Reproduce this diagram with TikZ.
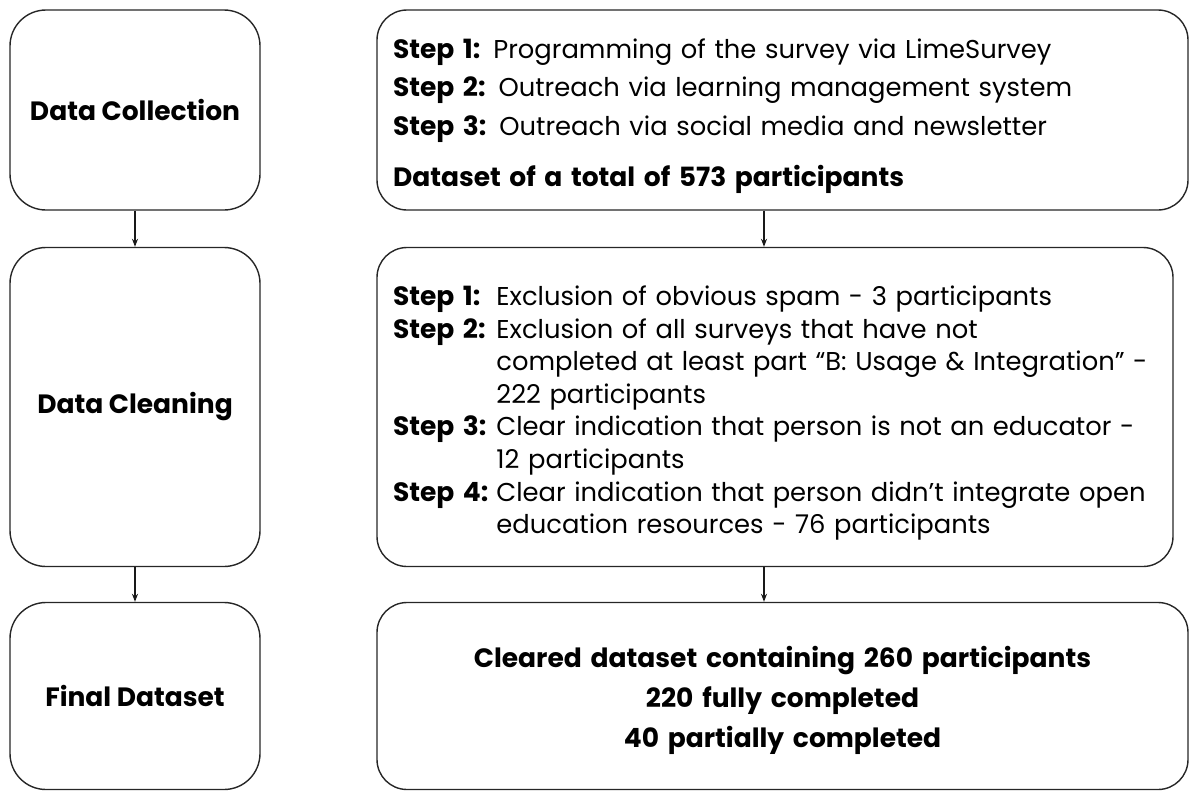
\documentclass[tikz,border=0pt]{standalone}
\usepackage{fontspec}
\setmainfont{Poppins}
\usetikzlibrary{arrows.meta}
\newcommand\steplabel[1]{{\fontsize{26.5}{30}\selectfont\bfseries #1}}
\tikzset{
  % boxes on the left (stages) and on the right (details)
  stage/.style={draw=black!85,line width=1.4pt,rounded corners=36pt,minimum width=250pt,
    align=center,font=\fontsize{26.5}{30}\selectfont\bfseries},
  detail/.style={draw=black!85,line width=1.4pt,rounded corners=30pt,minimum width=811pt},
  note/.style={inner sep=0pt,text width=779pt,font=\fontsize{25.8}{38.5}\selectfont},
  flow/.style={-{Stealth[length=8pt,width=6pt]},line width=1.1pt,black!90},
}
\begin{document}
\begin{tikzpicture}[x=1pt,y=-1pt]
  \useasboundingbox (0,0) rectangle (1200,801);
  \node[stage,minimum height=200pt] (collect) at (135,110) {Data Collection};
  \node[stage,minimum height=319pt] (clean) at (135,407) {Data Cleaning};
  \node[stage,minimum height=187pt] (final) at (135,696) {Final Dataset};

  \node[detail,minimum height=200pt] (survey) at (782.5,110) {};
  \node[detail,minimum width=796pt,minimum height=319pt] (exclude) at (775,407) {};
  \node[detail,minimum height=187pt] (result) at (782.5,696) {};

  \node[note,align=left] (surveytxt) at ([yshift=-6pt]survey.center)
    {\steplabel{Step 1:} Programming of the survey via LimeSurvey\\
     \steplabel{Step 2:} Outreach via learning management system\\
     \steplabel{Step 3:} Outreach via social media and newsletter\\[13pt]
     \steplabel{Dataset of a total of 573 participants}};
  \node[note,text width=764pt,align=left] (excludetxt) at ([yshift=-6pt]exclude.center)
    {\fontsize{25.8}{32.6}\selectfont
     \begin{tabular}{@{}l@{\hspace{8pt}}l@{}}
       \steplabel{Step 1:} & Exclusion of obvious spam - 3 participants\\
       \steplabel{Step 2:} & Exclusion of all surveys that have not\\
                           & completed at least part “B: Usage \& Integration” -\\
                           & 222 participants\\
       \steplabel{Step 3:} & Clear indication that person is not an educator -\\
                           & 12 participants\\
       \steplabel{Step 4:} & Clear indication that person didn’t integrate open\\
                           & education resources - 76 participants
     \end{tabular}};
  \node[note,align=center,font=\fontsize{26.5}{40}\selectfont\bfseries] (resulttxt)
    at ([yshift=-4pt]result.center)
    {Cleared dataset containing 260 participants\\
     220 fully completed\\
     40 partially completed};

  \coordinate (rx) at (764,0);
  \draw[flow] (collect) -- (clean);
  \draw[flow] (clean) -- (final);
  \draw[flow] (survey.south -| rx) -- (exclude.north -| rx);
  \draw[flow] (exclude.south -| rx) -- (result.north -| rx);
\end{tikzpicture}
\end{document}
